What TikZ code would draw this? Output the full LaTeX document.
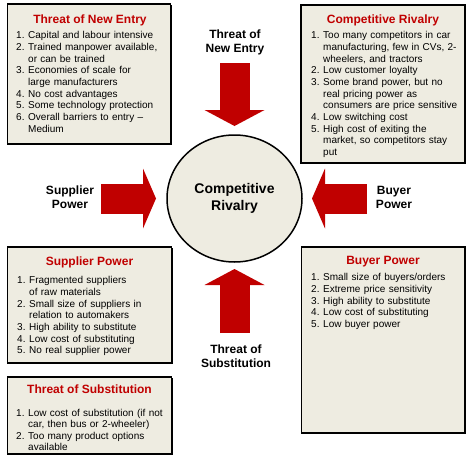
\documentclass[tikz,border=0pt]{standalone}
\usepackage{fontspec}
\setmainfont{Liberation Sans}
\usetikzlibrary{
    arrows.meta,
    shapes.geometric,
    shadows
}
\definecolor{darkred}{HTML}{C00000}
\definecolor{paneltan}{HTML}{EEECE1}
\tikzstyle{panel} = [
    rectangle,
    draw=black,
    line width=1.8pt,
    fill=paneltan,
    inner sep=0pt,
    outer sep=0pt,
    drop shadow={shadow xshift=1pt, shadow yshift=-1pt, fill=black, opacity=1}
]
\tikzstyle{paneltitle} = [
    anchor=base,
    inner sep=0pt,
    text=darkred,
    font=\fontsize{12}{14}\selectfont\bfseries
]
\tikzstyle{panelbody} = [
    anchor=north west,
    inner sep=0pt,
    text width=155pt,
    align=left,
    font=\fontsize{10}{11.7}\selectfont
]
\tikzstyle{forcelabel} = [
    align=center,
    inner sep=0pt,
    font=\fontsize{12}{13.8}\selectfont\bfseries
]
\tikzstyle{force} = [
    line width=30pt,
    draw=darkred
]
% numbered line and continuation line of a panel list
\newcommand{\pnum}[1]{\makebox[12pt][l]{\strut#1}}
\newcommand{\pcont}{\hspace*{12pt}}

\begin{document}
\begin{tikzpicture}[x=1pt, y=-1pt]
    \useasboundingbox (0,0) rectangle (474,458);

    % Panels (boxes)
    \node[panel, minimum width=163pt, minimum height=140pt] (entryBox) at (89,74) {};
    \node[panel, minimum width=164pt, minimum height=158pt] (rivalryBox) at (383,84) {};
    \node[panel, minimum width=164pt, minimum height=116pt] (supplierBox) at (89.5,305) {};
    \node[panel, minimum width=163.5pt, minimum height=186pt] (buyerBox) at (383.25,340) {};
    \node[panel, minimum width=164pt, minimum height=77pt] (substBox) at (89.5,415.5) {};

    % Threat of New Entry (top left)
    \node[paneltitle] (entryTitle) at (90,23) {Threat of New Entry};
    \node[panelbody] (entryBody) at (16,30.3) {
        \pnum{1.}Capital and labour intensive\\
        \pnum{2.}Trained manpower available,\\
        \pcont or can be trained\\
        \pnum{3.}Economies of scale for\\
        \pcont large manufacturers\\
        \pnum{4.}No cost advantages\\
        \pnum{5.}Some technology protection\\
        \pnum{6.}Overall barriers to entry --\\
        \pcont Medium
    };

    % Competitive Rivalry (top right)
    \node[paneltitle] (rivalryTitle) at (383,23) {Competitive Rivalry};
    \node[panelbody] (rivalryBody) at (311,30.3) {
        \pnum{1.}Too many competitors in car\\
        \pcont manufacturing, few in CVs, 2-\\
        \pcont wheelers, and tractors\\
        \pnum{2.}Low customer loyalty\\
        \pnum{3.}Some brand power, but no\\
        \pcont real pricing power as\\
        \pcont consumers are price sensitive\\
        \pnum{4.}Low switching cost\\
        \pnum{5.}High cost of exiting the\\
        \pcont market, so competitors stay\\
        \pcont put
    };

    % Supplier Power (middle left)
    \node[paneltitle] (supplierTitle) at (89.5,265) {Supplier Power};
    \node[panelbody] (supplierBody) at (17,275.3) {
        \pnum{1.}Fragmented suppliers\\
        \pcont of raw materials\\
        \pnum{2.}Small size of suppliers in\\
        \pcont relation to automakers\\
        \pnum{3.}High ability to substitute\\
        \pnum{4.}Low cost of substituting\\
        \pnum{5.}No real supplier power
    };

    % Buyer Power (bottom right)
    \node[paneltitle] (buyerTitle) at (383,264) {Buyer Power};
    \node[panelbody] (buyerBody) at (311,272.3) {
        \pnum{1.}Small size of buyers/orders\\
        \pnum{2.}Extreme price sensitivity\\
        \pnum{3.}High ability to substitute\\
        \pnum{4.}Low cost of substituting\\
        \pnum{5.}Low buyer power
    };

    % Threat of Substitution (bottom left)
    \node[paneltitle] (substTitle) at (89.5,393) {Threat of Substitution};
    \node[panelbody, font=\fontsize{10}{11.3}\selectfont] (substBody) at (16,408.5) {
        \pnum{1.}Low cost of substitution (if not\\
        \pcont car, then bus or 2-wheeler)\\
        \pnum{2.}Too many product options\\
        \pcont available
    };

    % Competitive Rivalry (centre)
    \node[ellipse, draw, line width=1.5pt, fill=paneltan, minimum width=135pt,
        minimum height=127pt, inner sep=0pt, outer sep=0pt, align=center,
        font=\fontsize{14}{16.5}\selectfont\bfseries] (rivalry) at (234.5,198.5) {Competitive\\Rivalry};

    % Force labels
    \node[forcelabel] (entryLabel) at (235,42) {Threat of\\New Entry};
    \node[forcelabel] (supplierLabel) at (70,197.5) {Supplier\\Power};
    \node[forcelabel] (buyerLabel) at (394,197.5) {Buyer\\Power};
    \node[forcelabel] (substLabel) at (236,356) {Threat of\\Substitution};

    % Force arrows - pointing at the centre
    \coordinate (entryTail) at (234.5,63);
    \coordinate (supplierTail) at (101,198.5);
    \coordinate (buyerTail) at (367,198.5);
    \coordinate (substTail) at (234.5,333);
    \draw[force, -{Triangle[width=60pt, length=16pt, line width=0pt]}, shorten >=9pt] (entryTail) -- (rivalry.north);
    \draw[force, -{Triangle[width=60pt, length=13pt, line width=0pt]}, shorten >=11pt] (supplierTail) -- (rivalry.west);
    \draw[force, -{Triangle[width=60pt, length=13pt, line width=0pt]}, shorten >=10pt] (buyerTail) -- (rivalry.east);
    \draw[force, -{Triangle[width=60pt, length=16pt, line width=0pt]}, shorten >=7pt] (substTail) -- (rivalry.south);
\end{tikzpicture}
\end{document}
